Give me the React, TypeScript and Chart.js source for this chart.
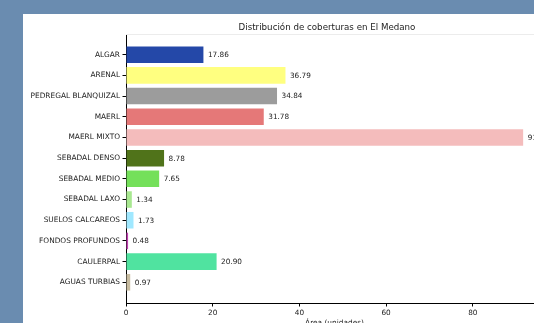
import React, { useEffect, useRef } from "react";
import { Chart, registerables } from "chart.js";

Chart.register(...registerables);

const TITLE = "Distribución de coberturas en El Medano";
const X_TITLE = "Área (unidades)";
const categories = [
  "ALGAR",
  "ARENAL",
  "PEDREGAL BLANQUIZAL",
  "MAERL",
  "MAERL MIXTO",
  "SEBADAL DENSO",
  "SEBADAL MEDIO",
  "SEBADAL LAXO",
  "SUELOS CALCAREOS",
  "FONDOS PROFUNDOS",
  "CAULERPAL",
  "AGUAS TURBIAS",
];
const areas = [17.86, 36.79, 34.84, 31.78, 91.62, 8.78, 7.65, 1.34, 1.73, 0.48, 20.9, 0.97];
const barColors = [
  "#2448a8",
  "#ffff80",
  "#9c9c9c",
  "#e57878",
  "#f4bcbc",
  "#50731a",
  "#74e05a",
  "#a8e890",
  "#a0e8ff",
  "#c040b0",
  "#50e3a0",
  "#c8bca0",
];
const xTicks = [0, 20, 40, 60, 80];
const X_MAX = 96.2;

const FONT = "DejaVu Sans";

export default function App() {
  const ref = useRef<HTMLCanvasElement | null>(null);

  useEffect(() => {
    if (!ref.current) return;
    const labels = ["", ...categories, ""];
    const data = [null, ...areas, null];
    const colors = ["transparent", ...barColors, "transparent"];
    const last = labels.length - 1;

    const overlay = {
      id: "overlay",
      afterDraw(chart: any) {
        const ctx = chart.ctx;
        const ca = chart.chartArea;
        ctx.save();
        ctx.strokeStyle = "#ececec";
        ctx.lineWidth = 1;
        ctx.beginPath();
        ctx.moveTo(ca.left, ca.top + 0.5);
        ctx.lineTo(ca.right, ca.top + 0.5);
        ctx.stroke();
        ctx.fillStyle = "#222";
        ctx.font = `8.7px "${FONT}"`;
        ctx.textAlign = "center";
        ctx.textBaseline = "alphabetic";
        ctx.fillText(TITLE, 304, 16);
        ctx.font = `7.4px "${FONT}"`;
        ctx.textBaseline = "top";
        ctx.fillText(X_TITLE, (ca.left + ca.right) / 2, 305);
        const meta = chart.getDatasetMeta(0);
        ctx.textAlign = "left";
        ctx.textBaseline = "middle";
        ctx.font = `7.3px "${FONT}"`;
        ctx.fillStyle = "#222";
        meta.data.forEach((bar: any, i: number) => {
          const v = data[i];
          if (v == null) return;
          ctx.fillText((v as number).toFixed(2), bar.x + 4.5, bar.y + 0.5);
        });
        ctx.restore();
      },
    };

    const chart = new Chart(ref.current, {
      type: "bar",
      data: {
        labels,
        datasets: [
          {
            data: data as any,
            backgroundColor: colors,
            borderWidth: 0,
            barPercentage: 0.8,
            categoryPercentage: 1,
          },
        ],
      },
      options: {
        indexAxis: "y",
        animation: false,
        responsive: false,
        maintainAspectRatio: false,
        layout: { padding: { top: 20, right: 20, left: 0, bottom: 0 } },
        plugins: {
          legend: { display: false },
          title: { display: false },
          tooltip: { enabled: false },
        },
        scales: {
          x: {
            type: "linear",
            min: 0,
            max: X_MAX,
            afterFit: (s: any) => {
              s.height = 20;
            },
            afterBuildTicks: (s: any) => {
              s.ticks = xTicks.map((v) => ({ value: v }));
            },
            ticks: {
              color: "#222",
              font: { family: FONT, size: 7.3 },
              padding: 2,
              maxRotation: 0,
              includeBounds: false,
            },
            grid: {
              display: true,
              drawOnChartArea: false,
              drawTicks: true,
              tickLength: 3.5,
              tickColor: "#000",
            },
            border: { display: true, color: "#000", width: 1 },
          },
          y: {
            type: "category",
            offset: false,
            afterFit: (s: any) => {
              s.width = 103;
            },
            ticks: {
              color: "#222",
              font: { family: FONT, size: 7.4 },
              padding: 2.5,
              autoSkip: false,
            },
            grid: {
              display: true,
              offset: false,
              drawOnChartArea: false,
              drawTicks: true,
              tickLength: 3.5,
              tickColor: (c: any) => (c.index === 0 || c.index === last ? "rgba(0,0,0,0)" : "#000"),
            },
            border: { display: true, color: "#000", width: 1 },
          },
        },
      },
      plugins: [overlay],
    });
    return () => chart.destroy();
  }, []);

  return (
    <div
      style={{
        position: "fixed",
        left: 0,
        top: 0,
        width: 534,
        height: 323,
        background: "#6a8cb0",
        overflow: "hidden",
      }}
    >
      <div
        style={{
          position: "absolute",
          left: 23,
          top: 14,
          width: 511,
          height: 309,
          background: "#fff",
          overflow: "hidden",
        }}
      >
        <canvas ref={ref} width={540} height={309} style={{ display: "block", width: 540, height: 309 }} />
      </div>
    </div>
  );
}
